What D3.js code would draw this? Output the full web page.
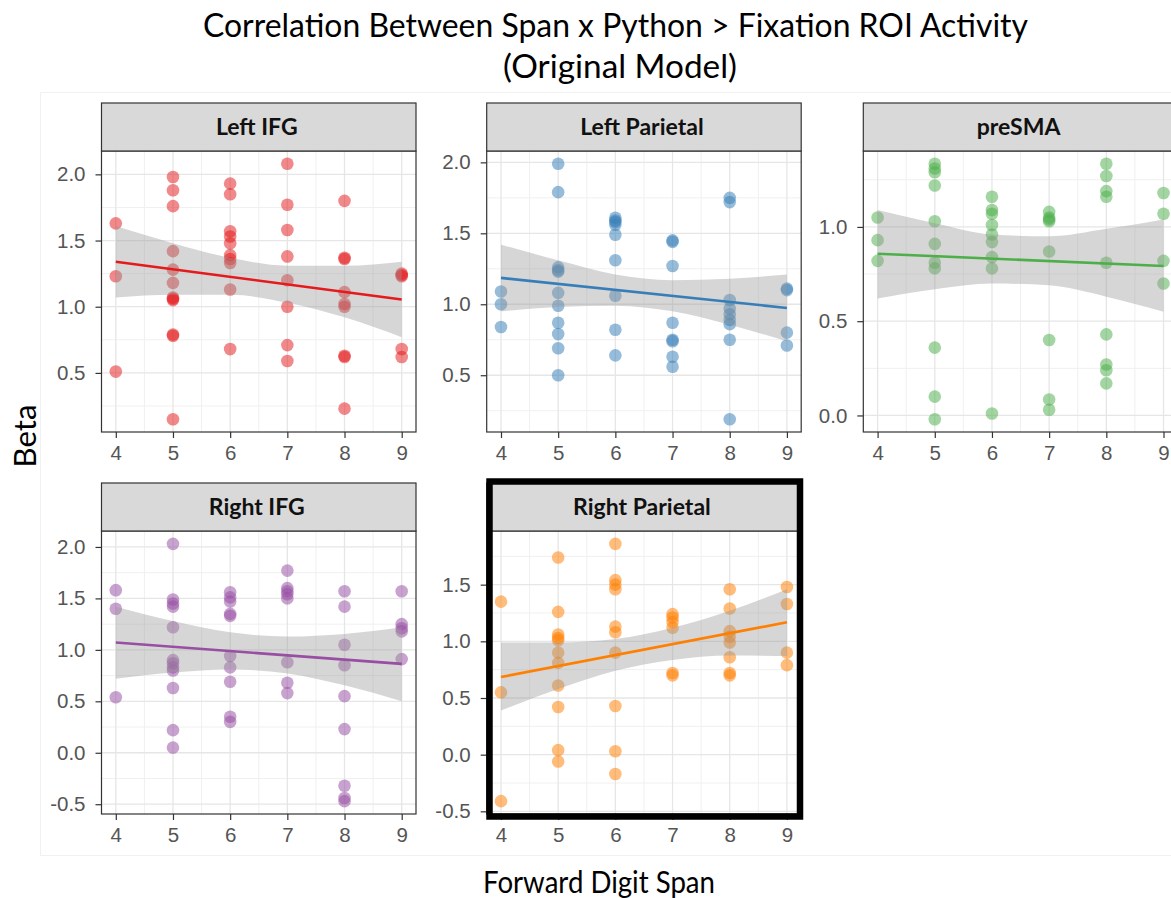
<!DOCTYPE html>
<html>
<head>
<meta charset="utf-8">
<script src="https://cdn.jsdelivr.net/npm/d3@7/dist/d3.min.js"></script>
<style>
  html, body { margin: 0; padding: 0; background: #ffffff; }
  svg { display: block; }
</style>
</head>
<body>
<svg id="chart" width="1171" height="898"></svg>
<script>
// Forward digit span groups (x axis) and axis breaks
const spans = [4, 5, 6, 7, 8, 9];
const spanMinorTicks = [4.5, 5.5, 6.5, 7.5, 8.5];
const betaTicks = [-0.5, 0.0, 0.5, 1.0, 1.5, 2.0];
const betaMinorTicks = [-0.25, 0.25, 0.75, 1.25, 1.75];

const regionNames = ["Left IFG", "Left Parietal", "preSMA", "Right IFG", "Right Parietal"];
const regionColors = ["#E41A1C", "#377EB8", "#4DAF4A", "#984EA3", "#FF7F00"];

// Beta values per subject, grouped by forward digit span (4 .. 9)
const leftIFG = [
  [1.63, 1.23, 0.51],
  [1.98, 1.88, 1.76, 1.42, 1.28, 1.18, 1.07, 1.06, 1.05, 0.79, 0.78, 0.15],
  [1.93, 1.85, 1.57, 1.53, 1.48, 1.39, 1.36, 1.33, 1.13, 0.68],
  [2.08, 1.77, 1.58, 1.38, 1.20, 1.00, 0.71, 0.59],
  [1.80, 1.37, 1.36, 1.11, 1.02, 1.00, 0.63, 0.62, 0.23],
  [1.25, 1.24, 1.23, 0.68, 0.62]
];
const leftParietal = [
  [1.09, 1.00, 0.84],
  [1.99, 1.79, 1.26, 1.24, 1.23, 1.08, 0.99, 0.87, 0.79, 0.69, 0.50],
  [1.61, 1.59, 1.58, 1.56, 1.49, 1.31, 1.06, 0.82, 0.64],
  [1.45, 1.44, 1.27, 0.87, 0.75, 0.74, 0.63, 0.56],
  [1.75, 1.72, 1.03, 0.97, 0.93, 0.89, 0.86, 0.75, 0.19],
  [1.11, 1.10, 0.80, 0.71]
];
const preSMA = [
  [1.05, 0.93, 0.82],
  [1.335, 1.31, 1.29, 1.22, 1.03, 0.91, 0.81, 0.78, 0.36, 0.10, -0.02],
  [1.16, 1.09, 1.07, 1.01, 0.96, 0.92, 0.84, 0.78, 0.01],
  [1.08, 1.05, 1.04, 1.03, 0.87, 0.40, 0.085, 0.03],
  [1.335, 1.27, 1.19, 1.16, 0.81, 0.43, 0.27, 0.24, 0.17],
  [1.18, 1.07, 0.82, 0.70]
];
const rightIFG = [
  [1.58, 1.40, 0.54],
  [2.03, 1.49, 1.45, 1.42, 1.22, 0.90, 0.87, 0.83, 0.80, 0.63, 0.22, 0.05],
  [1.56, 1.51, 1.47, 1.35, 1.33, 0.94, 0.83, 0.69, 0.35, 0.30],
  [1.77, 1.60, 1.57, 1.54, 1.50, 0.88, 0.68, 0.58],
  [1.57, 1.42, 1.05, 0.85, 0.55, 0.23, -0.32, -0.44, -0.47],
  [1.57, 1.25, 1.21, 1.18, 0.91]
];
const rightParietal = [
  [1.35, 0.55, -0.41],
  [1.74, 1.26, 1.06, 1.03, 1.01, 0.90, 0.81, 0.61, 0.42, 0.04, -0.06],
  [1.86, 1.54, 1.50, 1.46, 1.13, 1.08, 0.90, 0.43, 0.03, -0.17],
  [1.24, 1.21, 1.17, 1.12, 0.72, 0.70],
  [1.46, 1.29, 1.09, 1.04, 0.99, 0.86, 0.72, 0.70],
  [1.48, 1.33, 0.90, 0.79]
];

// Linear fit: predicted beta at span 4 and span 9
const leftIFGFit = [1.34, 1.055];
const leftParietalFit = [1.186, 0.974];
const preSMAFit = [0.858, 0.793];
const rightIFGFit = [1.071, 0.864];
const rightParietalFit = [0.685, 1.168];

// 95% confidence band of the fit at spans 4 .. 9
const leftIFGLower = [1.07, 1.09, 1.09, 1.03, 0.92, 0.77];
const leftIFGUpper = [1.61, 1.48, 1.37, 1.31, 1.31, 1.34];
const leftParietalLower = [0.95, 0.98, 0.99, 0.95, 0.855, 0.74];
const leftParietalUpper = [1.42, 1.31, 1.21, 1.17, 1.18, 1.21];
const preSMALower = [0.62, 0.67, 0.70, 0.69, 0.63, 0.55];
const preSMAUpper = [1.09, 1.02, 0.96, 0.95, 0.99, 1.04];
const rightIFGLower = [0.72, 0.78, 0.81, 0.77, 0.655, 0.50];
const rightIFGUpper = [1.42, 1.28, 1.17, 1.13, 1.155, 1.22];
const rightParietalLower = [0.39, 0.58, 0.74, 0.835, 0.875, 0.87];
const rightParietalUpper = [0.99, 0.99, 1.02, 1.12, 1.27, 1.46];

const regionValues = [leftIFG, leftParietal, preSMA, rightIFG, rightParietal];
const regionFits = [leftIFGFit, leftParietalFit, preSMAFit, rightIFGFit, rightParietalFit];
const regionLower = [leftIFGLower, leftParietalLower, preSMALower, rightIFGLower, rightParietalLower];
const regionUpper = [leftIFGUpper, leftParietalUpper, preSMAUpper, rightIFGUpper, rightParietalUpper];

// Facet grid geometry
const colLeft = [101.5, 486.7, 863.3];
const panelWidth = 314.5;
const rowTop = [103, 483];
const stripHeight = 48;
const plotHeight = [281, 283];
const facetCell = [[0, 0], [0, 1], [0, 2], [1, 0], [1, 1]];

const svg = d3.select("#chart");
svg.append("rect").attr("width", 1171).attr("height", 898).attr("fill", "#ffffff");

// faint frame of the plotting canvas
svg.append("rect")
  .attr("x", 40.5).attr("y", 92.5).attr("width", 1140).attr("height", 763)
  .attr("fill", "none").attr("stroke", "#f1f1f1").attr("stroke-width", 1);

const fmt = v => v.toFixed(1);

regionNames.forEach((name, k) => {
  const [row, col] = facetCell[k];
  const left = colLeft[col];
  const top = rowTop[row];
  const plotTop = top + stripHeight;
  const plotBottom = plotTop + plotHeight[row];
  const color = regionColors[k];

  const points = [];
  regionValues[k].forEach((vals, i) => vals.forEach(v => points.push({ x: spans[i], y: v })));
  const band = spans.map((s, i) => ({ x: s, lo: regionLower[k][i], hi: regionUpper[k][i] }));

  // scale trained on points and band, expanded by 5% like ggplot
  const allY = points.map(p => p.y).concat(band.map(b => b.lo), band.map(b => b.hi));
  const [yMin, yMax] = d3.extent(allY);
  const pad = (yMax - yMin) * 0.05;
  const y = d3.scaleLinear().domain([yMin - pad, yMax + pad]).range([plotBottom, plotTop]);
  const x = d3.scaleLinear().domain([3.75, 9.25]).range([left, left + panelWidth]);

  const g = svg.append("g");
  const clipId = "clip" + k;
  g.append("clipPath").attr("id", clipId).append("rect")
    .attr("x", left).attr("y", plotTop).attr("width", panelWidth).attr("height", plotHeight[row]);

  // panel background
  g.append("rect").attr("x", left).attr("y", plotTop)
    .attr("width", panelWidth).attr("height", plotHeight[row]).attr("fill", "#ffffff");

  const [d0, d1] = y.domain();
  const yMajor = betaTicks.filter(t => t >= d0 && t <= d1);
  const yMinor = betaMinorTicks.filter(t => t >= d0 && t <= d1);

  const grid = g.append("g").attr("clip-path", `url(#${clipId})`);
  grid.selectAll("line.ymin").data(yMinor).join("line")
    .attr("x1", left).attr("x2", left + panelWidth)
    .attr("y1", d => y(d)).attr("y2", d => y(d))
    .attr("stroke", "#f0f0f0").attr("stroke-width", 1);
  grid.selectAll("line.xmin").data(spanMinorTicks).join("line")
    .attr("x1", d => x(d)).attr("x2", d => x(d))
    .attr("y1", plotTop).attr("y2", plotBottom)
    .attr("stroke", "#f0f0f0").attr("stroke-width", 1);
  grid.selectAll("line.ymaj").data(yMajor).join("line")
    .attr("x1", left).attr("x2", left + panelWidth)
    .attr("y1", d => y(d)).attr("y2", d => y(d))
    .attr("stroke", "#e6e6e6").attr("stroke-width", 1.3);
  grid.selectAll("line.xmaj").data(spans).join("line")
    .attr("x1", d => x(d)).attr("x2", d => x(d))
    .attr("y1", plotTop).attr("y2", plotBottom)
    .attr("stroke", "#e6e6e6").attr("stroke-width", 1.3);

  const layer = g.append("g").attr("clip-path", `url(#${clipId})`);
  // subjects
  layer.selectAll("circle").data(points).join("circle")
    .attr("cx", d => x(d.x)).attr("cy", d => y(d.y)).attr("r", 6.3)
    .attr("fill", color).attr("fill-opacity", 0.52);

  // confidence band
  const area = d3.area().x(d => x(d.x)).y0(d => y(d.lo)).y1(d => y(d.hi)).curve(d3.curveMonotoneX);
  layer.append("path").datum(band).attr("d", area)
    .attr("fill", "#999999").attr("fill-opacity", 0.4);

  // fitted line
  const fit = [{ x: spans[0], y: regionFits[k][0] }, { x: spans[spans.length - 1], y: regionFits[k][1] }];
  layer.append("path").datum(fit)
    .attr("d", d3.line().x(d => x(d.x)).y(d => y(d.y)))
    .attr("stroke", color).attr("stroke-width", 2.6).attr("fill", "none");

  // panel border
  g.append("rect").attr("x", left).attr("y", plotTop)
    .attr("width", panelWidth).attr("height", plotHeight[row])
    .attr("fill", "none").attr("stroke", "#333333").attr("stroke-width", 1.2);

  // strip
  g.append("rect").attr("x", left).attr("y", top)
    .attr("width", panelWidth).attr("height", stripHeight)
    .attr("fill", "#d9d9d9").attr("stroke", "#333333").attr("stroke-width", 1.2);
  g.append("text")
    .attr("x", left + panelWidth / 2 - 2).attr("y", top + stripHeight / 2 + 8)
    .attr("text-anchor", "middle")
    .attr("font-family", "Lato, 'Open Sans', sans-serif").attr("font-weight", "bold")
    .attr("font-size", 23).attr("fill", "#111111")
    .text(name);

  // y axis
  const yAxis = d3.axisLeft(y).tickValues(yMajor).tickFormat(fmt).tickSize(6).tickPadding(10);
  const ya = g.append("g").attr("transform", `translate(${left},0)`).call(yAxis);
  ya.select(".domain").remove();
  ya.selectAll(".tick line").attr("stroke", "#333333").attr("stroke-width", 1.2);
  ya.selectAll(".tick text")
    .attr("font-family", "'Liberation Sans', Arial, sans-serif").attr("font-size", 20.5)
    .attr("fill", "#555555");

  // x axis
  const xAxis = d3.axisBottom(x).tickValues(spans).tickFormat(d3.format("d")).tickSize(6).tickPadding(7);
  const xa = g.append("g").attr("transform", `translate(0,${plotBottom})`).call(xAxis);
  xa.select(".domain").remove();
  xa.selectAll(".tick line").attr("stroke", "#333333").attr("stroke-width", 1.2);
  xa.selectAll(".tick text")
    .attr("font-family", "'Liberation Sans', Arial, sans-serif").attr("font-size", 20.5)
    .attr("fill", "#555555");
});

// highlight box around the Right Parietal facet
svg.append("rect")
  .attr("x", 489.5).attr("y", 481.5).attr("width", 310.5).attr("height", 335)
  .attr("fill", "none").attr("stroke", "#000000").attr("stroke-width", 6.5);

// titles
const titleFont = "Lato, 'Open Sans', sans-serif";
svg.append("text")
  .attr("x", 615.5).attr("y", 37).attr("text-anchor", "middle")
  .attr("font-family", titleFont).attr("font-size", 32).attr("fill", "#000000")
  .attr("textLength", 825).attr("lengthAdjust", "spacingAndGlyphs")
  .text("Correlation Between Span x Python > Fixation ROI Activity");
svg.append("text")
  .attr("x", 620).attr("y", 78).attr("text-anchor", "middle")
  .attr("font-family", titleFont).attr("font-size", 32).attr("fill", "#000000")
  .attr("textLength", 234).attr("lengthAdjust", "spacingAndGlyphs")
  .text("(Original Model)");
svg.append("text")
  .attr("x", 599).attr("y", 893).attr("text-anchor", "middle")
  .attr("font-family", titleFont).attr("font-size", 30).attr("fill", "#000000")
  .attr("textLength", 232).attr("lengthAdjust", "spacingAndGlyphs")
  .text("Forward Digit Span");
svg.append("text")
  .attr("transform", "translate(36,436) rotate(-90)").attr("text-anchor", "middle")
  .attr("font-family", titleFont).attr("font-size", 31).attr("fill", "#000000")
  .attr("textLength", 63).attr("lengthAdjust", "spacingAndGlyphs")
  .text("Beta");
</script>
</body>
</html>
